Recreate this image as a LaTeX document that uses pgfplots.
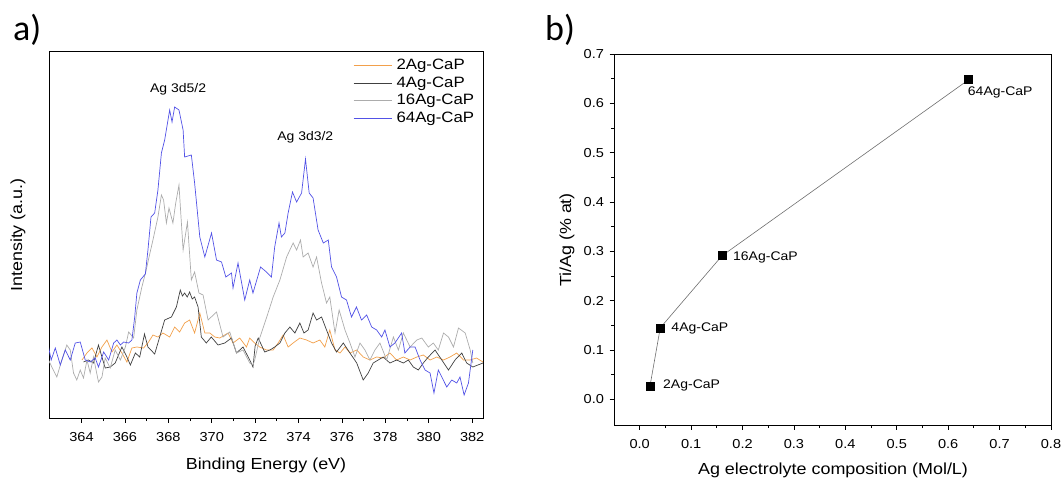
\documentclass[border=0pt]{standalone}
\usepackage{fontspec}
\setmainfont{Liberation Sans}[FakeStretch=1.12]
\newfontfamily\panelfont{Carlito}
\usepackage{pgfplots}
\pgfplotsset{compat=1.18}

\definecolor{agtwo}{RGB}{242,160,75}
\definecolor{agfour}{RGB}{64,64,64}
\definecolor{agsixteen}{RGB}{172,172,172}
\definecolor{agsixtyfour}{RGB}{82,82,230}
\newcommand{\fsz}[1]{\fontsize{#1}{#1}\selectfont}

\pgfplotsset{
  panel/.style={
    scale only axis, anchor=north west,
    tick align=outside, tick pos=left,
    axis line style={line width=0.9pt},
    every tick/.append style={black, line width=0.8pt},
    major tick length=4.5pt, minor tick length=3pt,
    ticklabel style={font=\fsz{13}},
    xticklabel style={yshift=-6pt},
    yticklabel style={xshift=-2pt},
    /pgf/number format/assume math mode=true,
  },
}

\begin{document}
\begin{tikzpicture}
\useasboundingbox (0pt,0pt) rectangle (1063pt,-480pt);

% a) XPS Ag 3d spectra
\begin{axis}[panel,
    at={(49pt,-51pt)}, width=434pt, height=367pt,
    xmin=362.5, xmax=382.5, ymin=0, ymax=367,
    xtick={364,366,...,382}, minor x tick num=1,
    ytick=\empty,
    every axis plot/.append style={line width=0.7pt},
    legend cell align=left,
    legend image code/.code={\draw[#1, line width=1pt] (0pt,0pt) -- (38pt,0pt);},
    legend style={draw=none, fill=none, font=\fsz{15},
        at={(axis description cs:0.70,0.985)}, anchor=north west,
        inner sep=0pt, row sep=0pt,
        /tikz/every odd column/.append style={column sep=3pt},
        nodes={inner sep=1.6pt, text height=11pt, text depth=3.5pt}},
]
\addplot[color=agtwo] coordinates {
(364.02,58)(364.25,65)(364.48,70)(364.71,61)(364.94,71)(365.17,78)(365.40,66)(365.63,73)
(365.86,65)(366.09,56)(366.32,70)(366.55,71)(366.86,70)(367.09,76)(367.29,83)(367.52,81)
(367.75,85)(368.06,81)(368.29,91)(368.52,86)(368.75,95)(368.98,98)(369.21,85)(369.45,105)
(369.68,85)(369.91,85)(370.14,81)(370.37,80)(370.75,85)(370.98,75)(371.29,80)(371.60,71)
(371.75,80)(371.98,75)(372.21,71)(372.52,68)(372.83,68)(373.06,75)(373.29,83)(373.52,71)
(373.75,75)(374.06,80)(374.37,78)(374.67,75)(374.98,78)(375.21,71)(375.44,88)(375.68,68)
(375.91,65)(376.14,71)(376.37,65)(376.68,68)(376.98,61)(377.29,58)(377.60,61)(377.90,60)
(378.21,65)(378.52,58)(378.83,61)(379.14,58)(379.45,61)(379.75,63)(380.06,58)(380.37,61)
(380.68,58)(380.98,61)(381.29,65)(381.60,58)(381.91,58)(382.20,60)(382.50,56)
};
\addlegendentry{2Ag-CaP}
\addplot[color=agfour] coordinates {
(364.09,56)(364.32,58)(364.55,55)(364.78,73)(364.94,61)(365.09,50)(365.32,51)(365.55,55)
(365.86,71)(366.09,61)(366.25,53)(366.48,65)(366.68,61)(366.90,84)(367.06,71)(367.37,64)
(367.60,81)(367.83,98)(368.14,101)(368.37,111)(368.55,128)(368.65,122)(368.75,125)(368.87,121)
(368.98,126)(369.10,119)(369.21,121)(369.37,111)(369.52,81)(369.75,75)(369.98,81)(370.29,73)
(370.60,75)(370.91,80)(371.14,65)(371.44,71)(371.75,58)(371.90,51)(372.00,72)(372.14,80)
(372.44,66)(372.68,68)(372.90,71)(373.14,75)(373.37,85)(373.60,91)(373.83,85)(374.06,95)
(374.25,85)(374.44,88)(374.67,105)(374.83,98)(375.06,101)(375.29,88)(375.52,75)(375.75,66)
(376.06,75)(376.37,65)(376.68,55)(376.98,38)(377.21,45)(377.44,55)(377.67,58)(377.90,61)
(378.21,55)(378.52,58)(378.83,55)(379.06,58)(379.29,51)(379.52,48)(379.75,55)(379.98,61)
(380.29,68)(380.60,58)(380.91,48)(381.21,58)(381.52,65)(381.75,55)(382.03,51)(382.50,55)
};
\addlegendentry{4Ag-CaP}
\addplot[color=agsixteen] coordinates {
(362.48,58)(362.63,51)(362.86,41)(363.09,58)(363.32,73)(363.48,68)(363.63,45)(363.78,38)
(363.94,48)(364.09,40)(364.25,58)(364.40,45)(364.55,61)(364.78,36)(364.94,41)(365.09,60)
(365.32,50)(365.55,68)(365.79,58)(366.02,71)(366.17,86)(366.40,80)(366.55,108)(366.78,131)
(366.98,148)(367.10,160)(367.29,178)(367.52,201)(367.68,223)(367.78,218)(367.91,195)(368.03,210)
(368.21,195)(368.34,215)(368.49,233)(368.68,168)(368.88,196)(369.06,138)(369.21,146)(369.41,125)
(369.60,123)(369.83,98)(370.22,106)(370.52,81)(370.83,86)(371.14,65)(371.44,68)(371.75,55)
(371.90,53)(371.98,58)(372.21,80)(372.52,100)(372.83,121)(373.14,138)(373.45,161)(373.75,175)
(373.91,168)(374.09,178)(374.21,161)(374.44,165)(374.67,151)(374.83,161)(375.06,135)(375.29,115)
(375.44,121)(375.68,85)(375.87,108)(376.14,88)(376.37,75)(376.60,61)(376.83,75)(377.06,68)
(377.29,58)(377.52,68)(377.75,75)(378.06,58)(378.37,81)(378.60,68)(378.83,85)(379.14,71)
(379.45,78)(379.68,80)(379.98,71)(380.21,75)(380.44,68)(380.68,85)(380.91,81)(381.14,71)
(381.37,90)(381.68,85)(381.91,68)(382.03,55)
};
\addlegendentry{16Ag-CaP}
\addplot[color=agsixtyfour] coordinates {
(362.48,71)(362.60,58)(362.79,70)(363.02,53)(363.25,68)(363.48,58)(363.71,75)(363.94,76)
(364.17,58)(364.40,56)(364.63,60)(364.78,51)(365.02,66)(365.25,58)(365.48,75)(365.63,78)
(365.79,73)(365.94,76)(366.17,75)(366.32,78)(366.45,101)(366.55,125)(366.71,138)(366.94,144)
(367.06,168)(367.20,201)(367.37,205)(367.52,228)(367.68,265)(367.83,278)(368.06,308)(368.17,296)
(368.29,311)(368.49,308)(368.68,288)(368.75,261)(369.06,263)(369.21,235)(369.45,181)(369.68,161)
(369.99,185)(370.22,158)(370.45,156)(370.65,141)(370.91,145)(370.98,130)(371.21,155)(371.52,118)
(371.75,138)(371.90,125)(372.25,151)(372.52,146)(372.75,141)(372.90,171)(373.10,195)(373.21,181)
(373.37,185)(373.52,205)(373.72,226)(373.91,216)(374.14,225)(374.32,259)(374.49,225)(374.67,220)
(374.90,188)(375.14,175)(375.37,178)(375.52,151)(375.75,141)(375.98,121)(376.21,118)(376.44,101)
(376.67,111)(376.90,98)(377.14,103)(377.37,91)(377.60,88)(377.83,81)(377.98,88)(378.21,71)
(378.44,75)(378.75,85)(378.90,65)(379.14,71)(379.37,71)(379.60,58)(379.83,48)(380.06,45)
(380.24,25)(380.44,48)(380.60,41)(380.83,31)(381.06,38)(381.29,35)(381.44,41)(381.63,23)
(381.83,35)(382.03,68)
};
\addlegendentry{64Ag-CaP}
\node[font=\fsz{12.5}] at (axis cs:368.45,329) {Ag 3d5/2};
\node[font=\fsz{12.5}] at (axis cs:374.31,281) {Ag 3d3/2};
\end{axis}

% b) Ti/Ag ratio vs Ag electrolyte composition
\begin{axis}[panel,
    at={(614pt,-54pt)}, width=437pt, height=371pt,
    xmin=-0.05, xmax=0.8, ymin=-0.052, ymax=0.7,
    xtick={0,0.1,...,0.8}, ytick={0,0.1,...,0.7},
    minor x tick num=1, minor y tick num=1,
    xticklabel style={/pgf/number format/.cd, fixed, fixed zerofill, precision=1},
    yticklabel style={/pgf/number format/.cd, fixed, fixed zerofill, precision=1},
]
\addplot[color=black!57, line width=0.6pt, mark=square*,
    mark options={black, solid}, mark size=4pt] coordinates {
(0.02,0.027)(0.04,0.145)(0.16,0.291)(0.64,0.648)
};
\node[font=\fsz{12.5}, anchor=west, inner sep=0pt, xshift=-1pt, yshift=-13pt] at (axis cs:0.64,0.648) {64Ag-CaP};
\node[font=\fsz{12.5}, anchor=west, inner sep=0pt, xshift=11pt, yshift=-2pt] at (axis cs:0.16,0.291) {16Ag-CaP};
\node[font=\fsz{12.5}, anchor=west, inner sep=0pt, xshift=11pt, yshift=-1pt] at (axis cs:0.04,0.145) {4Ag-CaP};
\node[font=\fsz{12.5}, anchor=west, inner sep=0pt, xshift=13pt, yshift=1pt] at (axis cs:0.02,0.027) {2Ag-CaP};
\end{axis}

% axis titles and panel letters
\node[font=\fsz{16}] at (266pt,-465pt) {Binding Energy (eV)};
\node[font=\fsz{16}, rotate=90] at (18pt,-235pt) {Intensity (a.u.)};
\node[font=\fsz{16}] at (833pt,-470pt) {Ag electrolyte composition (Mol/L)};
\node[font=\fsz{16}, rotate=90] at (567pt,-240pt) {Ti/Ag (\% at)};
\node[font=\panelfont\fsz{36}, anchor=base west, inner sep=0pt] at (13pt,-40pt) {a)};
\node[font=\panelfont\fsz{36}, anchor=base west, inner sep=0pt] at (545pt,-40pt) {b)};
\end{tikzpicture}
\end{document}
